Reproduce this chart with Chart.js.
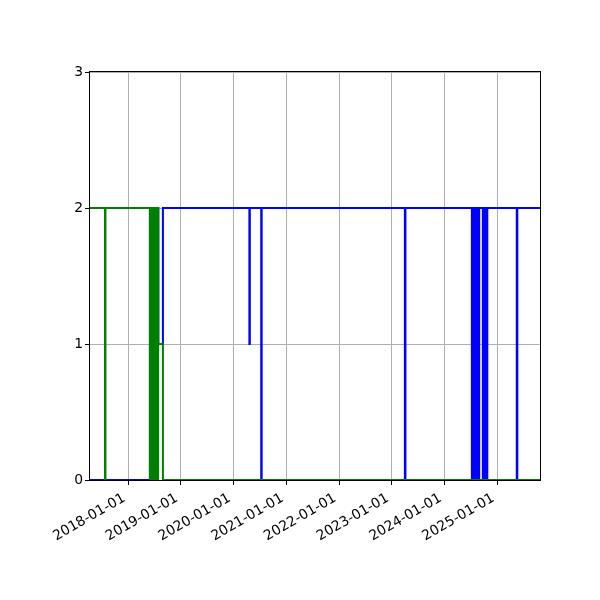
<!DOCTYPE html>
<html>
<head>
<meta charset="utf-8">
<script src="https://cdn.jsdelivr.net/npm/chart.js@4"></script>
<style>
  html, body { margin: 0; padding: 0; background: #fff; }
  #wrap { width: 600px; height: 600px; }
</style>
</head>
<body>
<div id="wrap"><canvas id="c" width="600" height="600"></canvas></div>
<script>
// ---- data ----
const xStart = '2017-04-11';
const xEnd = '2025-10-23';
const xTickLabels = ['2018-01-01','2019-01-01','2020-01-01','2021-01-01','2022-01-01','2023-01-01','2024-01-01','2025-01-01'];
const yTicks = [0, 1, 2, 3];

const greenDates = ['2017-04-11','2017-07-24','2017-07-27',
  '2018-05-31','2018-06-03','2018-06-06','2018-06-09','2018-06-12','2018-06-15','2018-06-18','2018-06-21',
  '2018-06-24','2018-06-27','2018-06-30','2018-07-03','2018-07-06','2018-07-09','2018-07-12','2018-07-15',
  '2018-07-18','2018-07-21','2018-07-24','2018-07-27','2018-07-28','2018-08-29','2025-10-23'];
const greenValues = [2,0,2,
  0,2,0,2,0,2,0,2,
  0,2,0,2,0,2,0,2,
  0,2,0,2,1,0,0];

const blueDates = ['2017-04-11','2018-05-31','2018-07-28','2018-08-29',
  '2020-04-19','2020-04-22','2020-07-10','2020-07-13','2023-04-01','2023-04-05',
  '2024-07-08','2024-07-11','2024-07-14','2024-07-17','2024-07-20','2024-07-23','2024-07-26','2024-07-29',
  '2024-08-01','2024-08-04','2024-08-07','2024-08-10','2024-08-13','2024-08-16','2024-08-19','2024-08-22',
  '2024-08-25','2024-08-28',
  '2024-09-22','2024-09-25','2024-09-28','2024-10-01','2024-10-04','2024-10-07','2024-10-10','2024-10-13',
  '2024-10-16','2024-10-19','2024-10-21','2024-10-23',
  '2025-05-15','2025-05-19','2025-10-23'];
const blueValues = [0,2,1,2,
  1,2,0,2,0,2,
  0,2,0,2,0,2,0,2,
  0,2,0,2,0,2,0,2,
  0,2,
  0,2,0,2,0,2,0,2,
  0,2,0,2,
  0,2,2];

// ---- build ----
const toMs = s => Date.parse(s + 'T00:00:00Z');
const toPts = (d, v) => d.map((s, i) => ({ x: toMs(s), y: v[i] }));
const fmt = ms => new Date(ms).toISOString().slice(0, 10);

const framePlugin = {
  id: 'frame',
  afterDatasetsDraw(chart) {
    const a = chart.chartArea, ctx = chart.ctx;
    ctx.save();
    ctx.strokeStyle = '#000';
    ctx.lineWidth = 1;
    ctx.strokeRect(Math.round(a.left) - 0.5, Math.round(a.top) - 0.5,
                   Math.round(a.right - a.left) + 1, Math.round(a.bottom - a.top) + 1);
    ctx.restore();
  }
};

const font = { family: 'DejaVu Sans', size: 13.9 };

new Chart(document.getElementById('c'), {
  type: 'line',
  data: {
    datasets: [
      { data: toPts(greenDates, greenValues), borderColor: 'green', borderWidth: 2,
        stepped: true, pointRadius: 0, fill: false, order: 0 },
      { data: toPts(blueDates, blueValues), borderColor: 'blue', borderWidth: 2,
        stepped: true, pointRadius: 0, fill: false, order: 1 }
    ]
  },
  options: {
    responsive: false,
    devicePixelRatio: 1,
    animation: false,
    layout: { padding: { top: 72, right: 60, left: 0, bottom: 0 } },
    plugins: { legend: { display: false }, tooltip: { enabled: false } },
    scales: {
      x: {
        type: 'linear',
        min: toMs(xStart),
        max: toMs(xEnd),
        afterBuildTicks: s => { s.ticks = xTickLabels.map(t => ({ value: toMs(t) })); },
        afterFit: s => { s.height = 120; },
        border: { display: false },
        grid: { color: '#b0b0b0', lineWidth: 1, tickColor: '#000', tickLength: 5 },
        ticks: {
          autoSkip: false, minRotation: 30, maxRotation: 30, padding: 5, labelOffset: -4,
          color: '#000', font: font,
          callback: v => fmt(v)
        }
      },
      y: {
        type: 'linear',
        min: 0, max: 3,
        afterBuildTicks: s => { s.ticks = yTicks.map(v => ({ value: v })); },
        afterFit: s => { s.width = 90; },
        border: { display: false },
        grid: { color: '#b0b0b0', lineWidth: 1, tickColor: '#000', tickLength: 5 },
        ticks: { color: '#000', font: font, padding: 2, callback: v => String(v) }
      }
    }
  },
  plugins: [framePlugin]
});
</script>
</body>
</html>
